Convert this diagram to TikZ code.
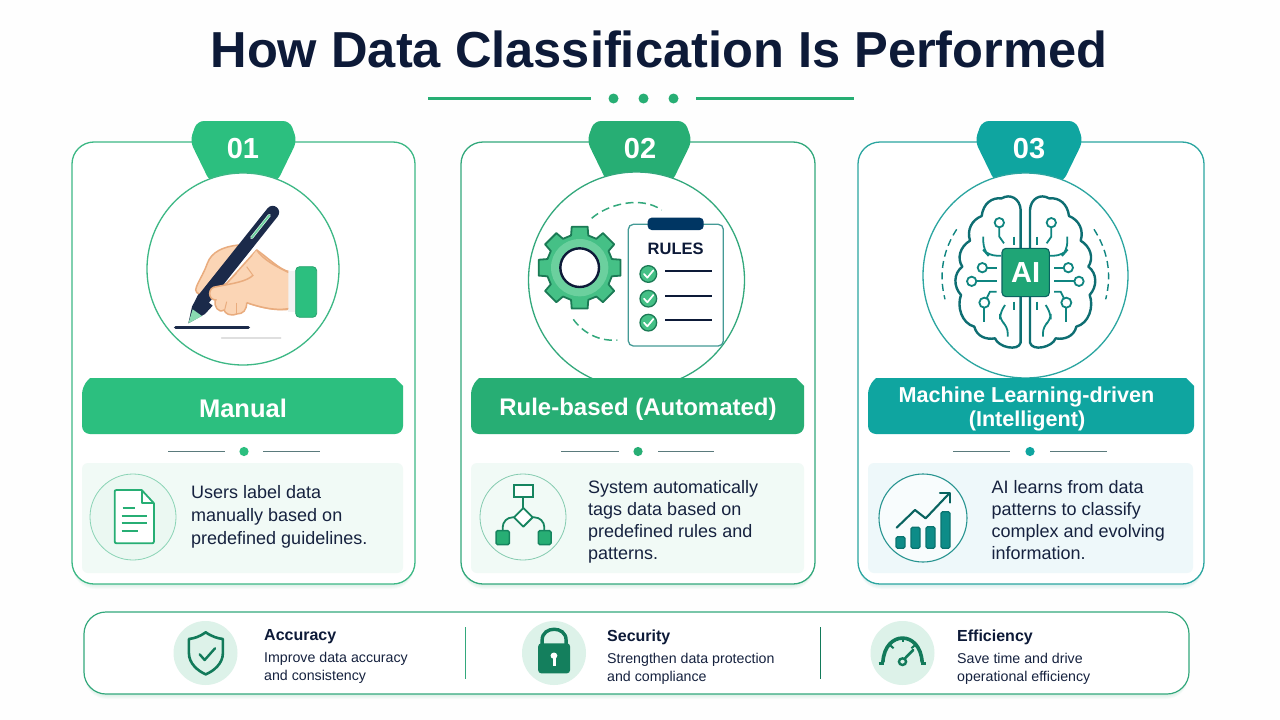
\documentclass[tikz,border=0pt]{standalone}
\usepackage{fontspec}
\setmainfont{Liberation Sans}
\definecolor{navy}{HTML}{0D1A38}
\definecolor{txt}{HTML}{16223F}
\definecolor{gA}{HTML}{2CBF7F}
\definecolor{gB}{HTML}{27AE74}
\definecolor{gC}{HTML}{0FA5A0}
\definecolor{lA}{HTML}{3DB885}
\definecolor{lB}{HTML}{33A87C}
\definecolor{lC}{HTML}{2BA5A0}
\definecolor{panA}{HTML}{F1FAF6}
\definecolor{panC}{HTML}{EEF8FA}
\definecolor{deep}{HTML}{127A5A}
\definecolor{brainc}{HTML}{0E6E72}
\definecolor{circ}{HTML}{0F8580}
\definecolor{skin}{HTML}{FBD5B5}
\definecolor{skinl}{HTML}{E9AC7E}
\definecolor{pen}{HTML}{1B2A4A}
\definecolor{gearf}{HTML}{45C086}
\definecolor{gearl}{HTML}{6BD09E}
\definecolor{gears}{HTML}{1B7A55}
\definecolor{softg}{HTML}{DDF2E9}
\definecolor{divc}{HTML}{5A7A7C}
\definecolor{bgc}{HTML}{FEFEFE}
\newcommand{\fs}[1]{\fontsize{#1}{#1}\selectfont}
\newcommand{\cardbox}[3]{%
 \foreach \k in {1,2,3,4,5}{\fill[#3,opacity=.035,rounded corners=22] (#1+1,146+\k) rectangle (#2-1,584+\k);}
 \draw[#3,line width=1.3,fill=white,rounded corners=22] (#1,142) rectangle (#2,584);}
\newcommand{\tabshape}[3]{\fill[#3,rounded corners=7] (#1+6,121) -- (#2-6,121) -- (#2+1,141) -- (#2-19,182) -- (#1+19,182) -- (#1-1,141) -- cycle;}
\newcommand{\ribbonbar}[3]{\fill[#3] (#1+8,378) -- (#2-8,378) -- (#2,386) [rounded corners=8] -- (#2,434) -- (#1,434) -- (#1,386) [sharp corners] -- cycle;}
\tikzset{
 tl/.style={anchor=base west,inner sep=0pt,text=txt,font=\fs{18}},
 sub/.style={anchor=base west,inner sep=0pt,text=txt,font=\fs{14.2}},
 hd/.style={anchor=base west,inner sep=0pt,text=navy,font=\fs{16}\bfseries},
 ct/.style={anchor=center,inner sep=0pt,text=white,font=\bfseries},
 zoomthree/.style={x=.33333pt,y=-.33333pt},
 zoombar/.style={x=.35714pt,y=-.33333pt},
 wire/.style={circ,line width=1.8}
}
\begin{document}
\begin{tikzpicture}[x=1pt,y=-1pt]
\useasboundingbox (0,0) rectangle (1280,720);
\fill[bgc] (0,0) rectangle (1280,720);
% title
\node[anchor=base,inner sep=0pt,text=navy,font=\fs{50.6}\bfseries] (title) at (659,67) {How Data Classification Is Performed};
\draw[gB,line width=2.6] (428,98.5) -- (591,98.5);
\draw[gB,line width=2.6] (696,98.5) -- (854,98.5);
\foreach \x in {613.5,643.5,673.5}{\fill[gB] (\x,98.5) circle (5);}
% cards
\cardbox{72}{415}{lA}
\cardbox{461}{815}{lB}
\cardbox{858}{1204}{lC}
\tabshape{191}{296}{gA}
\tabshape{588}{691}{gB}
\tabshape{976}{1082}{gC}
\draw[lA,line width=1.3,fill=white] (243,269) circle (96);
\draw[lB,line width=1.3,fill=white] (636.5,280) circle (108);
\draw[lC,line width=1.3,fill=white] (1025.5,275.5) circle (102.5);
\node[ct,font=\fs{29}\bfseries] (n1) at (243,149) {01};
\node[ct,font=\fs{29}\bfseries] (n2) at (640,149) {02};
\node[ct,font=\fs{29}\bfseries] (n3) at (1029,149) {03};
\ribbonbar{82}{403}{gA}
\ribbonbar{471}{804}{gB}
\ribbonbar{868}{1194}{gC}
\node[ct,font=\fs{25.5}\bfseries] (r1) at (243,408) {Manual};
\node[ct,font=\fs{24}\bfseries] (r2) at (638,409) {Rule-based (Automated)};
\node[anchor=base,inner sep=0pt,text=white,font=\fs{21.6}\bfseries] (r3a) at (1026.5,402) {Machine Learning-driven};
\node[anchor=base,inner sep=0pt,text=white,font=\fs{21.6}\bfseries] (r3b) at (1027,426) {(Intelligent)};
% dividers
\foreach \a/\b/\c/\d/\e/\col in {168/225/244/263/320/gA,561/619/638/658/714/gB,953/1010/1030/1050/1107/gC}{
 \draw[divc,line width=.9] (\a,451) -- (\b,451);
 \draw[divc,line width=.9] (\d,451) -- (\e,451);
 \fill[\col] (\c,451.5) circle (4.6);
}
% panels
\fill[panA,rounded corners=6] (82,463) rectangle (403,573);
\fill[panA,rounded corners=6] (471,463) rectangle (804,573);
\fill[panC,rounded corners=6] (868,463) rectangle (1193,573);
\draw[lA!60,line width=.8,fill=panA!70!softg] (133,517) circle (43);
\draw[lB!60,line width=.8,fill=panA] (523,517) circle (43);
\draw[lC!90!black,line width=1.1,fill=white!60!panC] (923,518) circle (44);
% descriptions
\node[tl] (d1a) at (191,498) {Users label data};
\node[tl] (d1b) at (191,521.5) {manually based on};
\node[tl] (d1c) at (191,544.5) {predefined guidelines.};
\node[tl] (d2a) at (588,493) {System automatically};
\node[tl] (d2b) at (588,515) {tags data based on};
\node[tl] (d2c) at (588,537) {predefined rules and};
\node[tl] (d2d) at (588,559) {patterns.};
\node[tl] (d3a) at (991.5,493) {AI learns from data};
\node[tl] (d3b) at (991.5,515) {patterns to classify};
\node[tl] (d3c) at (991.5,537) {complex and evolving};
\node[tl] (d3d) at (991.5,559) {information.};
% pen and hand
\begin{scope}[xshift=70pt,yshift=-110pt,zoomthree]
 \draw[gray!25,line width=1.5,line cap=round] (455,684) -- (632,684);
 \draw[pen,line width=3.4,line cap=round] (317,652) -- (535,652);
 \draw[skinl,line width=1.5,fill=skin,line join=round] (505,405) .. controls (460,410) and (425,425) .. (412,460) .. controls (400,495) and (380,520) .. (377,540) .. controls (378,552) and (395,560) .. (415,545) -- (470,520) -- (560,420) .. controls (590,440) and (630,480) .. (657,485) -- (657,598) .. controls (620,602) and (580,595) .. (530,578) .. controls (530,600) and (520,612) .. (500,612) .. controls (480,620) and (465,610) .. (462,600) .. controls (445,610) and (432,590) .. (435,570) -- cycle;
 \fill[white!90!gray] (655,482) rectangle (680,606);
 \draw[gA!85!black,line width=.8,fill=gA,rounded corners=4] (677,470) rectangle (740,622);
 \draw[pen,line width=13,line cap=round] (608,307) -- (400,568);
 \fill[pen] (385,553) -- (428,587) -- (405,612) -- (355,640) -- (366,590) -- cycle;
 \fill[gearl!80!white] (355,640) -- (368,598) -- (396,618) -- cycle;
 \draw[white!70!gearl,line width=3,line cap=round] (598,316) -- (545,383);
 \draw[gearl,line width=1.6,line cap=round] (598,316) -- (545,383);
 \fill[skin] (550,495) .. controls (530,515) and (490,520) .. (440,530) .. controls (412,530) and (412,572) .. (440,570) .. controls (480,575) and (520,575) .. (530,578) .. controls (580,595) and (620,602) .. (655,596) -- (655,487) .. controls (620,470) and (580,450) .. (560,420) -- (548,436) -- cycle;
 \draw[skinl,line width=1.5] (550,495) .. controls (530,515) and (490,520) .. (440,530) .. controls (412,530) and (412,572) .. (440,570);
 \draw[skinl,line width=1.5] (530,578) .. controls (580,595) and (620,602) .. (655,596);
 \draw[skinl,line width=1.5] (655,487) .. controls (620,470) and (580,450) .. (560,420);
 \draw[skinl,line width=1] (470,520) -- (500,490);
 \draw[skinl,line width=1] (548,495) -- (530,470);
 \draw[skinl,line width=1] (470,575) -- (464,600);
 \draw[skinl,line width=1] (500,578) -- (500,612);
\end{scope}
% gear + rules
\begin{scope}[xshift=460pt,yshift=-110pt,zoomthree]
 \draw[lB,line width=1.5,dash pattern=on 8pt off 4.5pt] (395,325) .. controls (440,285) and (540,255) .. (605,300);
 \draw[lB,line width=1.5,dash pattern=on 8pt off 4.5pt] (340,628) .. controls (370,670) and (420,695) .. (472,690);
 \begin{scope}[shift={(359,473)}]
  \draw[gears,line width=1.8,fill=gearf,line join=round] (-15:100) foreach \a in {0,45,...,315}{ -- ({\a-15}:100) -- ({\a-11}:125) -- ({\a+11}:125) -- ({\a+15}:100) } -- cycle;
  \fill[gearl] (0,0) circle (86);
  \draw[navy,line width=2.4,fill=white] (0,0) circle (58);
 \end{scope}
 \draw[lC!70!gray,line width=1.3,fill=white,rounded corners=5] (505,343) rectangle (790,708);
 \fill[blue!30!teal!60!black,rounded corners=4] (563,323) rectangle (731,360);
 \node[anchor=center,inner sep=0pt,text=navy,font=\fs{16.5}\bfseries] (rulesT) at (647,415) {RULES};
 \foreach \y in {492,566,638}{
  \draw[gears,line width=1.3,fill=gearf] (565,\y) circle (25);
  \draw[white,line width=1.7,line cap=round,line join=round] (552,\y) -- (562,\y+11) -- (580,\y-11);
 }
 \foreach \y in {484,558,629}{\draw[navy,line width=1.9] (615,\y) -- (755,\y);}
\end{scope}
% brain
\begin{scope}[xshift=855pt,yshift=-110pt,zoomthree]
 \foreach \s in {1,-1}{
 \begin{scope}[shift={(511,0)},xscale=\s,shift={(-511,0)}]
  \draw[brainc,line width=2.4,line join=round,line cap=round] (497,698) -- (497,300) .. controls (495,265) and (465,250) .. (440,265) .. controls (410,262) and (385,280) .. (380,318) .. controls (350,330) and (335,360) .. (345,392) .. controls (315,410) and (305,445) .. (322,470) .. controls (295,490) and (295,530) .. (318,555) .. controls (305,590) and (320,640) .. (358,650) .. controls (365,680) and (395,690) .. (420,685) .. controls (430,712) and (490,725) .. (497,698);
  \draw[wire] (433,353) -- (433,380) -- (447,400);
  \draw[wire] (433,338) circle (14);
  \draw[wire,rounded corners=8] (385,380) -- (385,420) -- (400,437) -- (438,437);
  \draw[wire] (476,380) -- (476,405);
  \draw[wire] (396,473) -- (425,473);
  \draw[wire] (382,473) circle (14);
  \draw[wire] (364,514) -- (425,514);
  \draw[wire] (350,514) circle (14);
  \draw[wire] (425,545) -- (405,545) -- (395,565);
  \draw[wire] (388,578) circle (15);
  \draw[wire] (388,593) -- (388,635);
  \draw[wire] (476,575) -- (476,600);
  \draw[wire,rounded corners=6] (450,585) -- (435,610) -- (435,630) -- (458,650) -- (458,680);
  \draw[wire,line width=1.4,dash pattern=on 7pt off 4.5pt] (305,358) .. controls (265,420) and (250,490) .. (270,568);
 \end{scope}}
 \draw[gC!60!black,line width=1.1,fill=gB!80!teal,rounded corners=4] (441,415) rectangle (583,560);
 \node[ct,font=\fs{29}\bfseries] (aiT) at (512,487) {AI};
\end{scope}
% doc icon
\begin{scope}[xshift=70pt,yshift=-370pt,zoomthree]
 \draw[gB,line width=1.8,line join=round,fill=white] (215,360) -- (140,360) .. controls (135,360) and (134,362) .. (134,366) -- (134,514) .. controls (134,518) and (136,520) .. (140,520) -- (246,520) .. controls (250,520) and (252,518) .. (252,514) -- (252,400) -- cycle;
 \draw[gB,line width=1.8,line join=round] (215,360) -- (215,400) -- (252,400);
 \foreach \a/\b/\y in {158/195/413,155/232/437,155/232/460,155/203/482}{\draw[gB,line width=1.8] (\a,\y) -- (\b,\y);}
\end{scope}
% flow icon
\begin{scope}[xshift=460pt,yshift=-370pt,zoomthree]
 \draw[deep!80!gB,line width=1.8,fill=white!70!panA] (163,345) rectangle (218,382);
 \draw[deep!80!gB,line width=1.8] (190,382) -- (190,414);
 \draw[deep!80!gB,line width=1.8,line join=round,fill=white] (190,414) -- (218,442) -- (190,470) -- (162,442) -- cycle;
 \draw[deep!80!gB,line width=1.8,rounded corners=10] (162,442) -- (128,442) -- (128,482);
 \draw[deep!80!gB,line width=1.8,rounded corners=10] (218,442) -- (253,442) -- (253,482);
 \draw[deep!80!gB,line width=1.5,fill=gB,rounded corners=1.5] (108,482) rectangle (148,524);
 \draw[deep!80!gB,line width=1.5,fill=gB,rounded corners=1.5] (235,482) rectangle (273,524);
\end{scope}
% chart icon
\begin{scope}[xshift=855pt,yshift=-370pt,zoomthree]
 \foreach \a/\b/\t in {123/150/500,168/195/472,213/240/470,258/285/425}{\draw[gC!70!black,line width=1.2,fill=gC!85!black,rounded corners=1.5] (\a,\t) rectangle (\b,535);}
 \draw[gC!60!black,line width=2.1,line join=round,line cap=round] (125,473) -- (180,420) -- (212,445) -- (283,370);
 \draw[gC!60!black,line width=2.1,line join=round,line cap=round] (255,368) -- (285,368) -- (285,398);
\end{scope}
% bottom bar
\foreach \k in {1,2,3,4,5}{\fill[lB,opacity=.035,rounded corners=22] (85,616+\k) rectangle (1188,694+\k);}
\draw[lB,line width=1.2,fill=white,rounded corners=22] (84,612) rectangle (1189,694);
\fill[softg] (205.5,653) circle (32);
\fill[softg] (554,653) circle (32);
\fill[softg] (902.5,653) circle (32);
\draw[lB,line width=.9] (465,627) -- (465,679);
\draw[deep,line width=.9] (820,627) -- (820,679);
\begin{scope}[xshift=80pt,yshift=-605pt,zoombar]
 \draw[deep,line width=2.6,line join=round] (352,82) .. controls (335,95) and (320,100) .. (305,102) -- (305,145) .. controls (305,175) and (330,198) .. (352,208) .. controls (375,198) and (400,175) .. (400,145) -- (400,102) .. controls (385,100) and (370,95) .. (352,82) -- cycle;
 \draw[deep,line width=2.4,line join=round,line cap=round] (335,148) -- (349,165) -- (378,130);
 \draw[deep,line width=3.4] (1294,118) -- (1294,105) .. controls (1294,62) and (1361,62) .. (1361,105) -- (1361,118);
 \fill[deep!90!gB,rounded corners=3] (1283,115) rectangle (1372,205);
 \fill[white] (1327,152) circle (9.5);
 \fill[white] (1323,152) rectangle (1332,182);
\end{scope}
\begin{scope}[xshift=640pt,yshift=-605pt,zoombar]
 \draw[deep,line width=3.6] (680,172) .. controls (685,75) and (785,75) .. (790,172);
 \draw[deep,line width=3] (668,174) -- (684,174);
 \draw[deep,line width=3] (786,174) -- (802,174);
 \foreach \a/\b/\c/\d in {700/120/710/130,735/95/735/112,770/120/760/130}{\draw[deep,line width=2] (\a,\b) -- (\c,\d);}
 \draw[deep,line width=2.6,line cap=round] (742,160) -- (765,135);
 \draw[deep,line width=2.4] (735,170) circle (10);
\end{scope}
\node[hd] (h1) at (264,640) {Accuracy};
\node[sub] (s1a) at (264,662) {Improve data accuracy};
\node[sub] (s1b) at (264,680) {and consistency};
\node[hd] (h2) at (607,641) {Security};
\node[sub] (s2a) at (607,663) {Strengthen data protection};
\node[sub] (s2b) at (607,681) {and compliance};
\node[hd] (h3) at (957,641) {Efficiency};
\node[sub] (s3a) at (957,663) {Save time and drive};
\node[sub] (s3b) at (957,681) {operational efficiency};
\end{tikzpicture}
\end{document}
